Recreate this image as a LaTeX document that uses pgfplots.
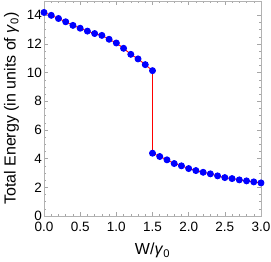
\documentclass[border=0pt]{standalone}
\usepackage{pgfplots}
\pgfplotsset{compat=1.18}
\usepackage{fontspec}
\setmainfont{Liberation Sans}
\begin{document}
\begin{tikzpicture}
\begin{axis}[
  name=ax,
  scale only axis,
  width=217pt, height=215pt,
  xmin=0, xmax=3, ymin=0, ymax=15,
  xtick={0,0.5,...,3.0},
  minor x tick num=4,
  ytick={0,2,...,14},
  minor y tick num=3,
  tick align=inside,
  major tick length=4pt,
  minor tick length=2pt,
  axis line style={gray!60, line width=0.6pt},
  every tick/.style={gray!70, line width=0.5pt},
  /pgf/number format/assume math mode=true,
  xticklabel style={font=\fontsize{13.5}{14}\selectfont, anchor=base, yshift=-16pt, /pgf/number format/.cd, fixed, fixed zerofill, precision=1},
  yticklabel style={font=\fontsize{13.5}{14}\selectfont, anchor=east, inner sep=2pt},
  xlabel={W/\textit{γ}\textsubscript{0}},
  ylabel={Total Energy (in units of \textit{γ}\textsubscript{0})},
  label style={font=\fontsize{16}{17}\selectfont},
  xlabel style={at={(axis description cs:0.5,-0.1814)}, anchor=base},
  ylabel style={at={(axis description cs:-0.1304,0.5)}, anchor=base, rotate=0},
]
\addplot[red, line width=0.9pt, mark=*, mark size=3.0pt, mark options={blue, fill=blue, draw=blue}] coordinates {
(0.0,14.20) (0.1,14.00) (0.2,13.78) (0.3,13.55) (0.4,13.30) (0.5,13.10)
(0.6,12.90) (0.7,12.73) (0.8,12.60) (0.9,12.33) (1.0,12.07) (1.1,11.70)
(1.2,11.28) (1.3,10.96) (1.4,10.56) (1.5,10.14)
(1.5,4.38) (1.6,4.15) (1.7,3.92) (1.8,3.66) (1.9,3.50) (2.0,3.31)
(2.1,3.17) (2.2,3.05) (2.3,2.94) (2.4,2.80) (2.5,2.68) (2.6,2.61)
(2.7,2.52) (2.8,2.45) (2.9,2.38) (3.0,2.31)
};
\end{axis}
\pgfresetboundingbox
\path[use as bounding box] ([xshift=-44pt,yshift=-46pt]ax.south west) rectangle ([xshift=10pt,yshift=1pt]ax.north east);
\end{tikzpicture}
\end{document}
